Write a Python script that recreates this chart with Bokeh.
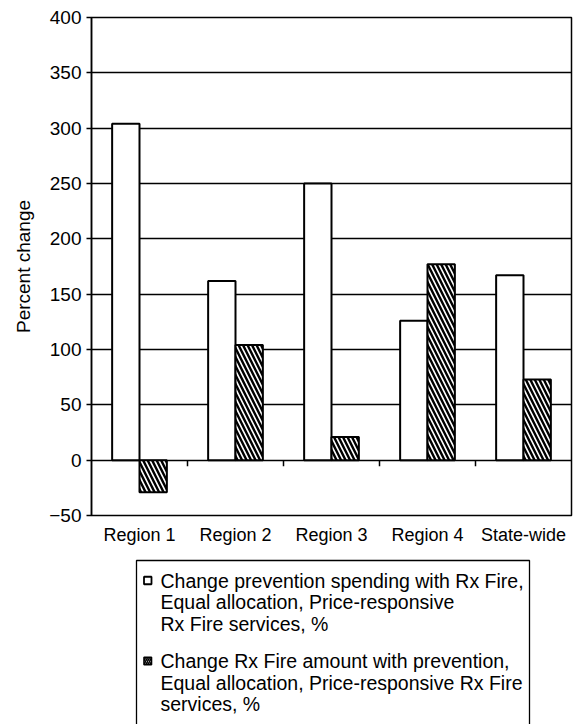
from bokeh.plotting import figure
from bokeh.models import Range1d, FactorRange, ColumnDataSource, FixedTicker
from bokeh.transform import dodge
from bokeh.layouts import column
from bokeh.embed import file_html
from bokeh.resources import INLINE
from bokeh.core.properties import value

# ---------------- data ----------------
categories = ["Region 1", "Region 2", "Region 3", "Region 4", "State-wide"]
prevention_change = [304, 162, 250, 126, 167]
rxfire_change = [-29, 104, 21, 177, 73]
y_ticks = [-50, 0, 50, 100, 150, 200, 250, 300, 350, 400]
y_label = "Percent change"
legend_lines_1 = ["Change prevention spending with Rx Fire,",
                  "Equal allocation, Price-responsive",
                  "Rx Fire services, %"]
legend_lines_2 = ["Change Rx Fire amount with prevention,",
                  "Equal allocation, Price-responsive Rx Fire",
                  "services, %"]

FONT = "Liberation Sans"
W = 573
H_MAIN = 550
H_LEG = 724 - H_MAIN
BAR_W = 0.285
LEFT = 91
RIGHT = 2

# ---------------- main chart ----------------
p = figure(x_range=FactorRange(*categories, range_padding=0), y_range=Range1d(-50, 400),
           width=W, height=H_MAIN, output_backend="svg", toolbar_location=None,
           min_border_left=LEFT, min_border_right=RIGHT, min_border_top=17, min_border_bottom=35)
p.background_fill_color = "white"
p.border_fill_color = "white"
p.outline_line_color = "black"
p.outline_line_width = 1.5
p.outline_line_alpha = 1.0

p.xgrid.grid_line_color = None
p.ygrid.ticker = FixedTicker(ticks=y_ticks)
p.ygrid.grid_line_color = "black"
p.ygrid.grid_line_width = 1.4
p.ygrid.grid_line_alpha = 1.0

p.yaxis.ticker = FixedTicker(ticks=y_ticks)
p.yaxis.major_label_overrides = {t: (("\u2212" + str(-t)) if t < 0 else str(t)) for t in y_ticks}
p.yaxis.axis_line_color = "black"
p.yaxis.axis_line_width = 1.5
p.yaxis.major_tick_line_color = "black"
p.yaxis.major_tick_line_width = 1.3
p.yaxis.major_tick_out = 5
p.yaxis.major_tick_in = 0
p.yaxis.minor_tick_line_color = None
p.yaxis.major_label_standoff = 5
p.yaxis.major_label_text_font = FONT
p.yaxis.major_label_text_font_size = "19px"
p.yaxis.major_label_text_color = "black"
p.yaxis.axis_label = y_label
p.yaxis.axis_label_text_font = FONT
p.yaxis.axis_label_text_font_style = "normal"
p.yaxis.axis_label_text_font_size = "19px"
p.yaxis.axis_label_text_color = "black"
p.yaxis.axis_label_standoff = 12

p.xaxis.axis_line_color = None
p.xaxis.major_tick_line_color = None
p.xaxis.major_tick_out = 0
p.xaxis.major_tick_in = 0
p.xaxis.major_label_standoff = 9
p.xaxis.major_label_text_font = FONT
p.xaxis.major_label_text_font_size = "18px"
p.xaxis.major_label_text_color = "black"

src = ColumnDataSource(dict(cat=categories, prev=prevention_change, rx=rxfire_change))
p.vbar(x=dodge("cat", -BAR_W / 2, range=p.x_range), top="prev", bottom=0, width=BAR_W,
       source=src, fill_color="white", line_color="black", line_width=2)
p.vbar(x=dodge("cat", BAR_W / 2, range=p.x_range), top="rx", bottom=0, width=BAR_W,
       source=src, fill_color="white", line_color="black", line_width=2,
       hatch_pattern="\\", hatch_color="black", hatch_scale=9, hatch_weight=2.4)

# category boundary tick marks on the zero line
bsrc = ColumnDataSource(dict(b=categories[:-1]))
p.segment(x0=dodge("b", 0.5, range=p.x_range), x1=dodge("b", 0.5, range=p.x_range),
          y0=0, y1=-5.5, source=bsrc, line_color="black", line_width=1.5)

# ---------------- legend (x in page pixels, frame aligned with chart) ----------------
lg = figure(width=W, height=H_LEG, x_range=Range1d(LEFT, W - RIGHT), y_range=Range1d(H_LEG, 0),
            output_backend="svg", toolbar_location=None,
            min_border_left=LEFT, min_border_right=RIGHT, min_border_top=0, min_border_bottom=0,
            x_axis_type=None, y_axis_type=None)
lg.outline_line_color = None
lg.grid.visible = False

lg.quad(left=[136], right=[529], top=[10], bottom=[H_LEG + 20],
        fill_color=None, line_color="black", line_width=1.3)

y1 = [30 + 21.5 * i for i in range(len(legend_lines_1))]
y2 = [110.5 + 21.5 * i for i in range(len(legend_lines_2))]

lg.quad(left=[143.5], right=[151], top=[y1[0] - 3.75], bottom=[y1[0] + 3.75],
        fill_color="white", line_color="black", line_width=1.8)
lg.quad(left=[143.5], right=[151], top=[y2[0] - 3.75], bottom=[y2[0] + 3.75],
        fill_color="white", line_color="black", line_width=1.6,
        hatch_pattern="\\", hatch_color="black", hatch_scale=4, hatch_weight=1.6)

lg.text(x=[160] * len(y1), y=y1, text=legend_lines_1, text_font=value(FONT),
        text_font_size="19.5px", text_baseline="middle", text_align="left", text_color="black")
lg.text(x=[160] * len(y2), y=y2, text=legend_lines_2, text_font=value(FONT),
        text_font_size="19.5px", text_baseline="middle", text_align="left", text_color="black")

layout = column(p, lg)
open("out.html", "w").write(file_html(layout, INLINE))
